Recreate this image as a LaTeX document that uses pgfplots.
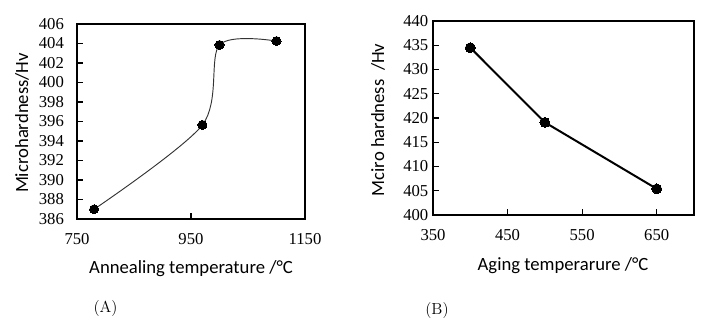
\documentclass[border=0pt]{standalone}
\usepackage{fontspec}
\setmainfont{Liberation Serif}
\newfontfamily\calibri{Carlito}
\newfontfamily\lmr{Latin Modern Roman}
\usepackage{pgfplots}
\pgfplotsset{compat=1.18}
\begin{document}
\begin{tikzpicture}[x=0.75pt,y=0.75pt]
\path[use as bounding box] (0,0) rectangle (711,326);
\pgfplotsset{
  common/.style={
    scale only axis,
    axis line style={black, line width=0.8pt},
    tick style={black, line width=0.8pt},
    tick align=inside,
    major tick length=4.5pt,
    xtick pos=bottom, ytick pos=left,
    /pgf/number format/assume math mode=true,
    /pgf/number format/1000 sep={},
    tick label style={font=\fontsize{12.5}{14}\selectfont},
    clip=false,
  }
}
\begin{axis}[common,
  at={(57.75pt,80.25pt)}, anchor=south west,
  width=171pt, height=146.25pt,
  xmin=750, xmax=1150, ymin=386, ymax=406,
  xtick={750,950,1150},
  ytick={386,388,...,406},
  yticklabel style={xshift=-6.3pt},
  xticklabel style={yshift=-7.6pt},
]
\addplot[smooth, line width=0.7pt, color=black!80, mark=*, mark size=3.4pt,
  mark options={fill=black, draw=black, line width=0pt}]
  coordinates {(780,387.0) (970,395.65) (1000,403.85) (1100,404.25)};
\end{axis}
\begin{axis}[common,
  at={(324.75pt,83.25pt)}, anchor=south west,
  width=195.75pt, height=145.5pt,
  xmin=350, xmax=700, ymin=400, ymax=440,
  xtick={350,450,550,650},
  ytick={400,405,...,440},
  yticklabel style={xshift=0pt},
  xticklabel style={yshift=-7pt},
]
\addplot[line width=1.5pt, color=black, mark=*, mark size=3.7pt,
  mark options={fill=black, draw=black, line width=0pt}]
  coordinates {(400,434.5) (500,419.1) (650,405.4)};
\end{axis}
\node[anchor=base, font=\calibri\fontsize{14}{16}\selectfont] at (191,53) {Annealing temperature /°C};
\node[rotate=90, font=\calibri\fontsize{14}{16}\selectfont] at (22,203) {Microhardness/Hv};
\node[anchor=base, font=\calibri\fontsize{14}{16}\selectfont] at (563,56) {Aging temperarure /°C};
\node[rotate=90, font=\calibri\fontsize{14}{16}\selectfont] at (378,206) {Mciro hardness\ \ /Hv};
\node[font=\lmr\fontsize{12}{14}\selectfont] at (105.5,17) {(A)};
\node[font=\lmr\fontsize{12}{14}\selectfont] at (437,15.5) {(B)};
\end{tikzpicture}
\end{document}
